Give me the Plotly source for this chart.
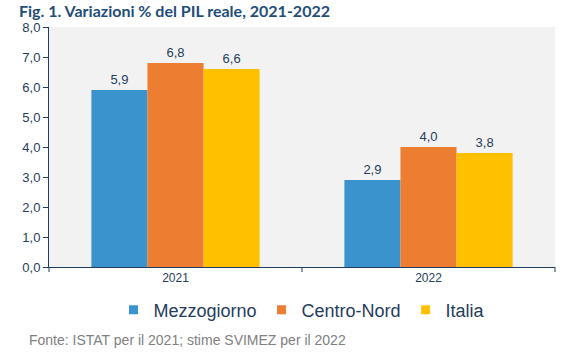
import plotly.graph_objects as go

years = ["2021", "2022"]
series_names = ["Mezzogiorno", "Centro-Nord", "Italia"]
mezzogiorno = [5.9, 2.9]
centro_nord = [6.8, 4.0]
italia = [6.6, 3.8]
colors = ["#3a93cd", "#ed7d31", "#ffc000"]
y_ticks = [0, 1, 2, 3, 4, 5, 6, 7, 8]
y_tick_labels = ["0,0", "1,0", "2,0", "3,0", "4,0", "5,0", "6,0", "7,0", "8,0"]

text_color = "#1f3d5c"
W, H = 562, 359
L, R, T, B = 49, 7, 27, 92
pw, ph = W - L - R, H - T - B

fig = go.Figure()
for name, vals, c in zip(series_names, [mezzogiorno, centro_nord, italia], colors):
    fig.add_trace(go.Bar(
        x=years, y=vals, name=name, marker=dict(color=c, line=dict(width=0)),
        text=[f"{v:.1f}".replace(".", ",") for v in vals],
        textposition="outside", cliponaxis=False, showlegend=False,
        textfont=dict(size=13, color=text_color),
    ))
# legend entries with small square markers
for name, c in zip(series_names, colors):
    fig.add_trace(go.Scatter(
        x=[None], y=[None], mode="markers", name=name,
        marker=dict(symbol="square", size=9, color=c),
    ))

fig.update_layout(
    width=W, height=H,
    margin=dict(l=L, r=R, t=T, b=B, autoexpand=False),
    paper_bgcolor="white", plot_bgcolor="#f2f2f2",
    font=dict(family="Liberation Sans, Arial, sans-serif", color=text_color),
    barmode="group", bargap=0.335, bargroupgap=0,
    showlegend=True,
    legend=dict(orientation="h", x=0.5, xanchor="center",
                y=-(310 - 267) / ph, yanchor="middle",
                font=dict(size=18, color=text_color), itemwidth=30,
                tracegroupgap=0, traceorder="normal", bgcolor="rgba(0,0,0,0)"),
)
fig.update_yaxes(range=[0, 8], tickvals=y_ticks, ticktext=y_tick_labels,
                 showgrid=False, zeroline=False, showline=True, linecolor=text_color,
                 linewidth=1, ticks="outside", ticklen=5, tickcolor=text_color,
                 tickfont=dict(size=13, color=text_color), automargin=False)
fig.update_xaxes(showgrid=False, showline=True, linecolor=text_color, linewidth=1,
                 ticks="", tickfont=dict(size=12, color=text_color), automargin=False)
# category boundary ticks on x-axis
for xv in [0, 0.5, 1.0]:
    fig.add_shape(type="line", xref="paper", yref="paper", x0=xv, x1=xv, y0=0, y1=-5 / ph,
                  line=dict(color=text_color, width=1))
fig.add_annotation(text="<b>Fig. 1. Variazioni % del PIL reale, 2021-2022</b>",
                   xref="paper", yref="paper", x=(17 - L) / pw, y=1 + (T - 10) / ph,
                   xanchor="left", yanchor="middle", showarrow=False,
                   font=dict(size=16, family="Lato, Liberation Sans, Arial",
                             color="#1f4e79"))
fig.add_annotation(text="Fonte: ISTAT per il 2021; stime SVIMEZ per il 2022",
                   xref="paper", yref="paper", x=(27 - L) / pw, y=-(340 - 267) / ph,
                   xanchor="left", yanchor="middle", showarrow=False,
                   font=dict(size=14, color="#808080"))
fig.write_html("out.html", config={"displayModeBar": False},
               post_script="document.body.style.margin='0';")
